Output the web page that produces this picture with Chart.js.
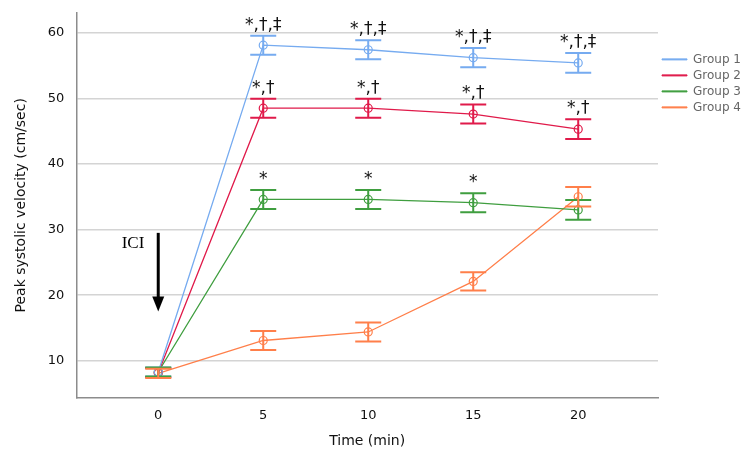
<!DOCTYPE html>
<html>
<head>
<meta charset="utf-8">
<script src="https://cdn.jsdelivr.net/npm/chart.js@4/dist/chart.umd.min.js"></script>
<style>
  html, body { margin: 0; padding: 0; background: #fff; }
  #wrap { width: 754px; height: 463px; }
</style>
</head>
<body>
<div id="wrap"><canvas id="myChart"></canvas></div>
<script>
const times = [0, 5, 10, 15, 20];
const xTicks = [0, 5, 10, 15, 20];
const yTicks = [10, 20, 30, 40, 50, 60];
const groupNames = ['Group 1', 'Group 2', 'Group 3', 'Group 4'];
const group1 = [8.3, 58.1, 57.4, 56.2, 55.4];
const group2 = [8.2, 48.5, 48.5, 47.6, 45.3];
const group3 = [8.3, 34.6, 34.6, 34.1, 33.0];
const group4 = [8.1, 13.1, 14.4, 22.1, 35.0];
const err1 = [0.7, 1.45, 1.45, 1.45, 1.5];
const err2 = [0.7, 1.45, 1.45, 1.45, 1.5];
const err3 = [0.7, 1.45, 1.45, 1.45, 1.5];
const err4 = [0.7, 1.45, 1.45, 1.4, 1.5];
const marks1 = ['', '*,†,‡', '*,†,‡', '*,†,‡', '*,†,‡'];
const marks2 = ['', '*,†', '*,†', '*,†', '*,†'];
const marks3 = ['', '*', '*', '*', ''];
const marks4 = ['', '', '', '', ''];
const colors = ['#76abf0', '#e01a4a', '#3f9e3f', '#ff7f4a'];

const means = [group1, group2, group3, group4];
const errs = [err1, err2, err3, err4];
const marks = [marks1, marks2, marks3, marks4];

const datasets = means.map((vals, i) => ({
  label: groupNames[i],
  data: times.map((t, j) => ({ x: t, y: vals[j] })),
  borderColor: colors[i],
  backgroundColor: colors[i],
  pointBackgroundColor: 'transparent',
  pointBorderColor: colors[i],
  pointRadius: 4,
  pointBorderWidth: 1.2,
  borderWidth: 1.3,
  tension: 0,
  fill: false,
}));

const errorBars = {
  id: 'errorBars',
  afterDatasetsDraw(chart) {
    const c = chart.ctx;
    const xs = chart.scales.x, ys = chart.scales.y;
    c.save();
    means.forEach((vals, i) => {
      c.strokeStyle = colors[i];
      c.lineWidth = 2;
      vals.forEach((v, j) => {
        const px = xs.getPixelForValue(times[j]);
        const top = ys.getPixelForValue(v + errs[i][j]);
        const bot = ys.getPixelForValue(v - errs[i][j]);
        c.beginPath();
        c.moveTo(px, top); c.lineTo(px, bot);
        c.moveTo(px - 13, top); c.lineTo(px + 13, top);
        c.moveTo(px - 13, bot); c.lineTo(px + 13, bot);
        c.stroke();
        if (marks[i][j]) {
          c.fillStyle = '#111';
          c.font = '17px "DejaVu Sans"';
          c.textAlign = 'center';
          c.textBaseline = 'bottom';
          c.fillText(marks[i][j], px, top - 2);
        }
      });
    });
    // ICI arrow
    const ax = xs.getPixelForValue(0);
    const y0 = ys.getPixelForValue(29.5);
    const y1 = ys.getPixelForValue(17.5);
    c.strokeStyle = '#000';
    c.fillStyle = '#000';
    c.lineWidth = 3;
    c.beginPath();
    c.moveTo(ax, y0); c.lineTo(ax, y1 - 14);
    c.stroke();
    c.beginPath();
    c.moveTo(ax - 6, y1 - 15); c.lineTo(ax + 6, y1 - 15); c.lineTo(ax, y1);
    c.closePath();
    c.fill();
    c.font = '17px "Liberation Serif"';
    c.textAlign = 'center';
    c.textBaseline = 'middle';
    c.fillText('ICI', xs.getPixelForValue(-1.2), ys.getPixelForValue(27.8));
    c.restore();
  }
};

const config = {
  type: 'line',
  data: { datasets: datasets },
  options: {
    responsive: true,
    maintainAspectRatio: false,
    animation: false,
    layout: { padding: { top: 13, right: 3, bottom: 10, left: 9 } },
    plugins: {
      legend: {
        position: 'right',
        align: 'start',
        title: { display: true, text: ' ', padding: { top: 22, bottom: 0 } },
        labels: {
          boxWidth: 25,
          boxHeight: 1,
          padding: 4,
          color: '#111',
          font: { family: 'DejaVu Sans', size: 12 },
          generateLabels(chart) {
            return chart.data.datasets.map((d, i) => ({
              text: d.label,
              fillStyle: colors[i],
              strokeStyle: colors[i],
              lineWidth: 1,
              datasetIndex: i,
            }));
          },
        },
      },
      tooltip: { enabled: false },
    },
    scales: {
      x: {
        type: 'linear',
        min: -3.9,
        max: 23.8,
        afterBuildTicks(axis) { axis.ticks = xTicks.map(v => ({ value: v })); },
        grid: { display: false, drawTicks: false },
        border: { display: true, color: '#8c8c8c', width: 1.5 },
        ticks: { color: '#111', font: { family: 'DejaVu Sans', size: 13 }, padding: 10 },
        title: { display: true, text: 'Time (min)', color: '#111', font: { family: 'DejaVu Sans', size: 14 }, padding: { top: 0, bottom: 3 } },
      },
      y: {
        min: 4.4,
        max: 63,
        afterBuildTicks(axis) { axis.ticks = yTicks.map(v => ({ value: v })); },
        afterFit(axis) { axis.paddingTop = 0; axis.paddingBottom = 0; },
        grid: { color: '#d4d4d4', lineWidth: 1.5, drawTicks: false },
        border: { display: true, color: '#8c8c8c', width: 1.5 },
        ticks: { color: '#111', font: { family: 'DejaVu Sans', size: 13 }, padding: 12 },
        title: { display: true, text: 'Peak systolic velocity (cm/sec)', color: '#111', font: { family: 'DejaVu Sans', size: 14 }, padding: { bottom: 6 } },
      },
    },
  },
  plugins: [errorBars],
};

const chart = new Chart(document.getElementById('myChart'), config);
</script>
</body>
</html>
